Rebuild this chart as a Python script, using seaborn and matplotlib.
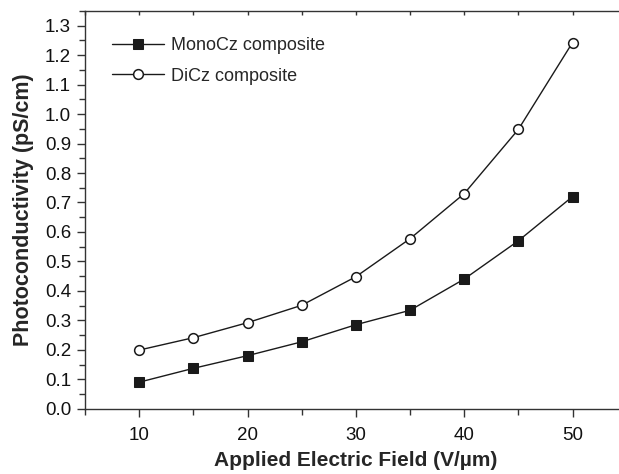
import matplotlib
matplotlib.use("Agg")
import matplotlib.pyplot as plt
import seaborn as sns
import pandas as pd
from matplotlib.ticker import MultipleLocator

field = [10, 15, 20, 25, 30, 35, 40, 45, 50]
mono = [0.09, 0.137, 0.18, 0.227, 0.285, 0.334, 0.44, 0.57, 0.72]
dicz = [0.199, 0.241, 0.292, 0.351, 0.448, 0.577, 0.730, 0.948, 1.243]
labels = ["MonoCz composite", "DiCz composite"]

sns.set_theme(style="ticks")
plt.rcParams['font.family'] = ['Liberation Sans', 'DejaVu Sans']

df = pd.DataFrame({
    "field": field * 2,
    "value": mono + dicz,
    "series": [labels[0]] * len(field) + [labels[1]] * len(field),
})

fig = plt.figure(figsize=(6.19, 4.74), dpi=100)
ax = fig.add_axes([85/619, 1 - 408.7/474, (626.7 - 85)/619, (408.7 - 11)/474])

sns.lineplot(data=df[df.series == labels[0]], x="field", y="value", ax=ax,
             color="#1a1a1a", lw=1, marker="s", markersize=6.5,
             markerfacecolor="#1a1a1a", markeredgecolor="#1a1a1a",
             label=labels[0])
sns.lineplot(data=df[df.series == labels[1]], x="field", y="value", ax=ax,
             color="#1a1a1a", lw=1, marker="o", markersize=7,
             markerfacecolor="white", markeredgecolor="#1a1a1a", markeredgewidth=1.1,
             label=labels[1])

ax.set_xlim(5, 55)
ax.set_ylim(0, 1.35)
ax.xaxis.set_major_locator(MultipleLocator(10))
ax.xaxis.set_minor_locator(MultipleLocator(5))
ax.yaxis.set_major_locator(MultipleLocator(0.1))
ax.yaxis.set_minor_locator(MultipleLocator(0.05))
ax.set_yticklabels([f"{v:.1f}" for v in ax.get_yticks()])

for s in ["left", "bottom", "top"]:
    ax.spines[s].set_linewidth(1.0)
    ax.spines[s].set_color("#333333")
ax.spines["right"].set_visible(False)

ax.tick_params(axis="both", which="major", direction="out", length=6, width=1,
               labelsize=13.5, colors="#333333", labelcolor="#111111", pad=4)
ax.tick_params(axis="both", which="minor", direction="out", length=4, width=1, colors="#333333")
ax.tick_params(axis="x", which="major", pad=7)
ax.tick_params(axis="x", which="both", top=True, labeltop=False)
for t in ax.xaxis.get_major_ticks() + ax.xaxis.get_minor_ticks():
    t.tick2line.set_marker(3)
    t.tick2line.set_markersize(3)

ax.set_xlabel("Applied Electric Field (V/µm)", fontsize=15, fontweight="bold", labelpad=5)
ax.set_ylabel("Photoconductivity (pS/cm)", fontsize=15.5, fontweight="bold", labelpad=8)

leg = ax.legend(loc="upper left", bbox_to_anchor=(0.02, 0.975), frameon=False,
                fontsize=13, handlelength=2.9, handletextpad=0.35, labelspacing=0.75)

fig.savefig("out.png", dpi=100)
